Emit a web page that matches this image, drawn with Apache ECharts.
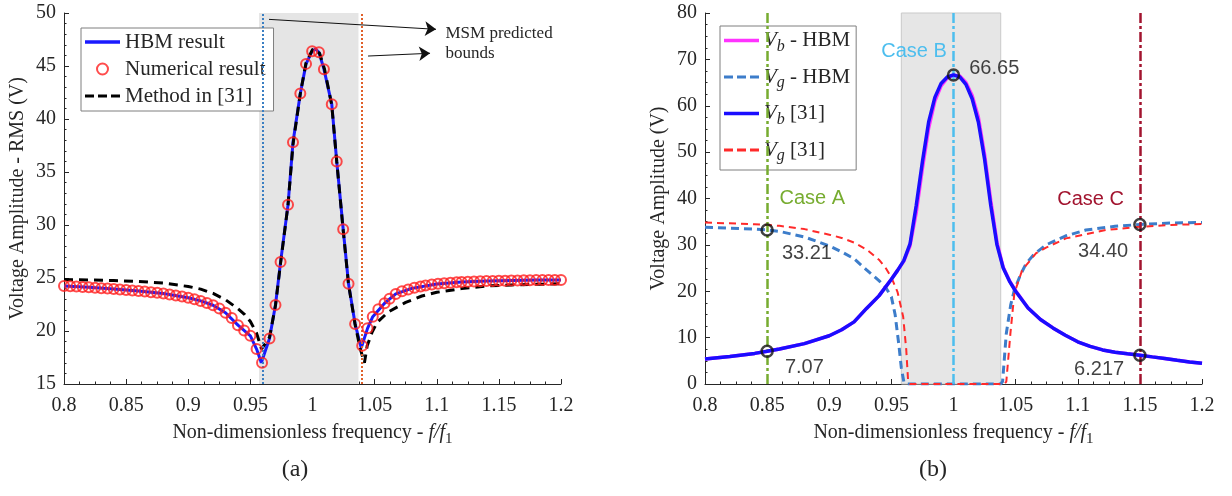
<!DOCTYPE html>
<html>
<head>
<meta charset="utf-8">
<script src="https://cdn.jsdelivr.net/npm/echarts@6/dist/echarts.min.js"></script>
<style>
  html, body { margin: 0; padding: 0; background: #fff; }
  #chart { width: 1232px; height: 496px; }
</style>
</head>
<body>
<div id="chart"></div>
<script>
// ---- (a) RMS voltage vs frequency ----
var numX = [0.800,0.805,0.810,0.815,0.820,0.825,0.830,0.835,0.840,0.845,0.850,0.855,0.860,0.865,0.870,0.875,0.880,0.885,0.890,0.895,
  0.900,0.905,0.910,0.915,0.920,0.925,0.930,0.935,0.940,0.945,0.950,0.955,0.9594,
  0.9654,0.9702,0.9743,0.9803,0.9843,0.9902,0.9948,0.9997,1.0052,1.0092,1.0155,1.0195,1.0247,1.0290,1.0343,1.0400,
  1.0443,1.0485,1.053,1.058,1.062,1.067,1.072,1.077,1.082,1.087,1.091,1.096,1.101,1.106,1.111,1.116,1.120,1.125,
  1.130,1.135,1.140,1.145,1.150,1.155,1.160,1.165,1.170,1.175,1.180,1.185,1.190,1.195,1.200];
var numY = [24.25,24.22,24.19,24.16,24.12,24.08,24.04,24.00,23.96,23.91,23.87,23.82,23.77,23.72,23.66,23.60,23.53,23.45,23.36,23.26,
  23.14,23.00,22.84,22.65,22.43,22.12,21.72,21.22,20.55,20.05,19.55,18.3,17.0,
  19.3,22.45,26.5,31.9,37.8,42.4,45.2,46.4,46.3,44.7,41.4,36.0,29.6,24.45,20.66,18.6,
  20.25,21.35,22.05,22.62,23.05,23.5,23.75,23.92,24.08,24.2,24.3,24.38,24.45,24.5,24.55,24.59,24.62,24.65,
  24.67,24.69,24.71,24.72,24.74,24.75,24.76,24.77,24.78,24.79,24.8,24.8,24.81,24.81,24.82];

var hbmX = [0.80,0.82,0.84,0.86,0.88,0.90,0.91,0.92,0.93,0.94,0.95,0.955,0.9588,
  0.9654,0.9702,0.9743,0.9803,0.9843,0.9902,0.9948,0.9997,1.0025,1.0052,1.0092,1.0155,1.0195,1.0247,1.0290,1.0343,1.0392,
  1.0443,1.0485,1.058,1.067,1.080,1.100,1.120,1.140,1.160,1.180,1.200];
var hbmY = [24.25,24.12,23.96,23.77,23.53,23.14,22.84,22.43,21.72,20.55,19.55,18.3,17.0,
  19.3,22.45,26.5,31.9,37.8,42.4,45.2,46.4,46.6,46.3,44.7,41.4,36.0,29.6,24.45,20.66,18.4,
  20.25,21.35,22.62,23.5,24.02,24.44,24.62,24.71,24.76,24.8,24.82];

var m31X = [0.80,0.82,0.84,0.86,0.88,0.90,0.91,0.92,0.93,0.94,0.945,0.95,0.955,0.959,
  0.9654,0.9702,0.9743,0.9803,0.9843,0.9902,0.9948,1.0002,1.0057,1.0097,1.0155,1.0195,1.0247,1.0290,1.0343,1.0385,
  1.0418,1.044,1.048,1.052,1.061,1.075,1.088,1.100,1.120,1.140,1.160,1.180,1.200];
var m31Y = [24.85,24.82,24.76,24.68,24.52,24.2,23.95,23.55,22.95,22.1,21.6,20.9,19.8,18.3,
  19.4,22.4,26.4,31.9,37.6,42.4,45.3,46.6,46.2,44.7,41.3,36.0,29.5,24.4,20.6,18.3,
  17.0,18.6,19.9,20.8,21.8,22.7,23.3,23.65,24.0,24.25,24.35,24.4,24.45];

var msmBounds = [0.957, 1.037];

// ---- (b) voltage amplitudes ----
var vbX = [0.80,0.82,0.84,0.85,0.86,0.88,0.90,0.91,0.92,0.93,0.94,0.95,0.955,0.96,0.965,0.97,0.975,0.98,0.985,0.99,0.995,
  1.00,1.005,1.01,1.015,1.02,1.025,1.03,1.035,1.04,1.045,1.05,1.06,1.07,1.08,1.09,1.10,1.11,1.12,1.13,1.14,1.15,1.16,1.17,1.18,1.19,1.20];
var vb31 = [5.4,5.95,6.6,7.07,7.55,8.7,10.4,11.7,13.4,16.3,19.0,22.6,24.5,26.6,30.2,38.5,48.0,56.5,61.8,64.8,66.2,
  66.65,66.2,64.6,61.5,56.5,48.5,38.5,30.0,25.0,22.2,20.0,16.4,13.9,12.1,10.5,9.1,8.1,7.35,6.85,6.5,6.217,5.85,5.5,5.1,4.75,4.45];
var vbHbm = [5.4,5.95,6.6,7.07,7.55,8.7,10.4,11.7,13.4,16.3,19.0,22.6,24.5,26.5,29.8,37.0,46.5,55.2,61.0,64.3,66.0,
  66.6,66.4,65.0,62.2,57.5,49.5,39.5,30.5,25.2,22.3,20.1,16.4,13.9,12.1,10.5,9.1,8.1,7.35,6.85,6.5,6.217,5.85,5.5,5.1,4.75,4.45];

var vgHbmX = [0.80,0.82,0.84,0.85,0.86,0.88,0.90,0.91,0.92,0.93,0.94,0.945,0.95,0.953,0.956,0.958,0.96,0.962,
  1.038,1.0395,1.0425,1.046,1.049,1.054,1.0585,1.065,1.0745,1.09,1.1065,1.13,1.15,1.175,1.20];
var vgHbmY = [33.8,33.6,33.4,33.21,32.9,31.7,29.8,28.5,27.0,24.6,22.3,21.0,18.8,15.0,8.5,3.5,0.5,0,
  0,0.5,10.9,17.0,20.3,23.6,26.0,28.0,30.0,31.9,33.2,34.0,34.40,34.7,34.85];

var vg31X = [0.80,0.82,0.84,0.85,0.86,0.88,0.90,0.91,0.92,0.93,0.94,0.945,0.95,0.955,0.9595,0.962,0.9635,0.965,
  1.041,1.0425,1.0458,1.049,1.0553,1.0665,1.0745,1.0905,1.1225,1.15,1.175,1.20];
var vg31Y = [34.8,34.65,34.45,34.3,34.1,33.4,32.2,31.5,30.5,29.0,26.8,25.2,23.0,19.8,14.5,7.3,0.5,0,
  0,0.5,10.9,19.6,24.6,28.2,29.4,31.4,33.2,33.9,34.3,34.5];

var caseFreq = [0.85, 1.0, 1.15];
var caseNames = ['Case A', 'Case B', 'Case C'];
var caseColors = ['#77AC30', '#4DBEEE', '#A2142F'];
var bandB = [0.958, 1.038];

var pointX = [0.85, 0.85, 1.0, 1.15, 1.15];
var pointY = [33.21, 7.07, 66.65, 34.40, 6.217];
var pointText = ['33.21', '7.07', '66.65', '34.40', '6.217'];

function pairs(xs, ys) {
  return xs.map(function (x, i) { return [x, ys[i]]; });
}

var serif = 'Liberation Serif';
var sans = 'Liberation Sans';
var ink = '#262626';

// legend icons (35 x 3 boxes, aspect kept)
var solidIcon = 'path://M0,0H35V3.6H0Z';
var dashIcon = 'path://M0,0H9V3H0Z M13,0H22V3H13Z M26,0H35V3H26Z';

var nameRich = {
  n: { fontFamily: serif, fontSize: 20, color: ink, lineHeight: 28 },
  i: { fontFamily: serif, fontSize: 20, fontStyle: 'italic', color: ink, lineHeight: 28 },
  s: { fontFamily: serif, fontSize: 15, color: ink, lineHeight: 12, verticalAlign: 'bottom' }
};

function xAxis(idx) {
  return {
    type: 'value', gridIndex: idx, min: 0.8, max: 1.2, interval: 0.05,
    name: '{n|Non-dimensionless frequency - }{i|f/f}{s|1}',
    nameLocation: 'middle', nameGap: 35,
    nameTextStyle: { rich: nameRich },
    axisLine: { onZero: false, lineStyle: { color: ink, width: 1 } },
    axisTick: { inside: true, length: 5, lineStyle: { color: ink } },
    minorTick: { show: true, splitNumber: 4, length: 2.5, lineStyle: { color: ink } },
    splitLine: { show: false },
    minorSplitLine: { show: false },
    axisLabel: {
      fontFamily: serif, fontSize: 20, color: ink, margin: 12,
      formatter: function (v) { return String(+v.toFixed(2)); }
    }
  };
}

function yAxis(idx, min, max, step, minor, title) {
  return {
    type: 'value', gridIndex: idx, min: min, max: max, interval: step,
    name: title, nameLocation: 'middle', nameGap: 36,
    nameTextStyle: { fontFamily: serif, fontSize: 20, color: ink },
    axisLine: { show: true, lineStyle: { color: ink, width: 1 } },
    axisTick: { show: true, inside: true, length: 5, lineStyle: { color: ink } },
    minorTick: { show: true, splitNumber: minor, length: 2.5, lineStyle: { color: ink } },
    splitLine: { show: false },
    minorSplitLine: { show: false },
    axisLabel: { fontFamily: serif, fontSize: 20, color: ink, margin: 8 }
  };
}

var legendRich = {
  i: { fontFamily: serif, fontSize: 21, fontStyle: 'italic', color: ink, lineHeight: 28 },
  s: { fontFamily: serif, fontSize: 16, fontStyle: 'italic', color: ink, lineHeight: 12, verticalAlign: 'bottom' },
  n: { fontFamily: serif, fontSize: 21, color: ink, lineHeight: 28 }
};
var legendLabels = {
  'Vb - HBM': '{i|V}{s|b}{n| - HBM}',
  'Vg - HBM': '{i|V}{s|g}{n| - HBM}',
  'Vb [31]': '{i|V}{s|b}{n| [31]}',
  'Vg [31]': '{i|V}{s|g}{n| [31]}'
};

var chart = echarts.init(document.getElementById('chart'));

chart.setOption({
  animation: false,
  backgroundColor: '#fff',
  grid: [
    { left: 64, top: 13, width: 497, height: 371, outerBoundsMode: 'none' },
    { left: 705, top: 13, width: 497, height: 371, outerBoundsMode: 'none' }
  ],
  xAxis: [xAxis(0), xAxis(1)],
  yAxis: [
    yAxis(0, 15, 50, 5, 5, 'Voltage Amplitude - RMS (V)'),
    yAxis(1, 0, 80, 10, 4, 'Voltage Amplitude (V)')
  ],
  title: [
    { text: '(a)', left: 290, top: 453, textAlign: 'center',
      textStyle: { fontFamily: serif, fontSize: 24, fontWeight: 'normal', color: ink } },
    { text: '(b)', left: 928, top: 453, textAlign: 'center',
      textStyle: { fontFamily: serif, fontSize: 24, fontWeight: 'normal', color: ink } }
  ],
  legend: [
    {
      data: [
        { name: 'HBM result', icon: solidIcon },
        { name: 'Numerical result', icon: 'circle' },
        { name: 'Method in [31]', icon: dashIcon }
      ],
      orient: 'vertical', left: 81, top: 28,
      padding: [3, 8, 4, 4], itemGap: 5, itemWidth: 35, itemHeight: 11,
      backgroundColor: '#fff', borderColor: '#7f7f7f', borderWidth: 1, borderRadius: 0,
      textStyle: { fontFamily: serif, fontSize: 21, color: ink, lineHeight: 22 }
    },
    {
      data: [
        { name: 'Vb - HBM', icon: solidIcon },
        { name: 'Vg - HBM', icon: dashIcon },
        { name: 'Vb [31]', icon: solidIcon },
        { name: 'Vg [31]', icon: dashIcon }
      ],
      orient: 'vertical', left: 720, top: 26,
      padding: [4, 6, 6, 4], itemGap: 12, itemWidth: 35, itemHeight: 12,
      backgroundColor: '#fff', borderColor: '#7f7f7f', borderWidth: 1, borderRadius: 0,
      formatter: function (name) { return legendLabels[name]; },
      textStyle: { rich: legendRich }
    }
  ],
  series: [
    // (a) shaded MSM band, bound lines and annotation
    {
      name: 'bandA', type: 'line', xAxisIndex: 0, yAxisIndex: 0, data: [], z: 1,
      markArea: {
        silent: true,
        itemStyle: { color: '#e5e5e5' },
        data: [[{ xAxis: msmBounds[0] }, { xAxis: msmBounds[1] }]]
      },
      markLine: {
        silent: true, symbol: 'none', label: { show: false },
        data: [
          { xAxis: msmBounds[0], lineStyle: { color: '#3b7fc2', type: [2, 2], width: 2 } },
          { xAxis: msmBounds[1], lineStyle: { color: '#e0602a', type: [2, 2], width: 2 } },
          [{ coord: [0.965, 49.4], symbol: 'none' }, { coord: [1.0994, 48.46], symbol: 'arrow' }],
          [{ coord: [1.0447, 45.94], symbol: 'none' }, { coord: [1.0946, 46.2], symbol: 'arrow' }]
        ],
        symbolSize: 11,
        lineStyle: { color: '#111', type: 'solid', width: 1 }
      },
      markPoint: {
        silent: true, symbolSize: 0,
        data: [{
          coord: [1.107, 47.15],
          label: {
            show: true, position: 'right', distance: 0, formatter: 'MSM predicted\nbounds',
            fontFamily: serif, fontSize: 17, lineHeight: 20, color: ink, align: 'left'
          }
        }]
      }
    },
    {
      name: 'HBM result', type: 'line', xAxisIndex: 0, yAxisIndex: 0, z: 3,
      data: pairs(hbmX, hbmY), symbol: 'none',
      lineStyle: { color: '#1a1aff', width: 3 }, itemStyle: { color: '#1a1aff' }
    },
    {
      name: 'Method in [31]', type: 'line', xAxisIndex: 0, yAxisIndex: 0, z: 4,
      data: pairs(m31X, m31Y), symbol: 'none',
      lineStyle: { color: '#000', width: 3, type: [9, 6] }, itemStyle: { color: '#000' }
    },
    {
      name: 'Numerical result', type: 'scatter', xAxisIndex: 0, yAxisIndex: 0, z: 5,
      data: pairs(numX, numY), symbol: 'circle', symbolSize: 10,
      itemStyle: { color: 'rgba(0,0,0,0)', borderColor: '#ff1f1f', borderWidth: 2 }
    },
    // (b) shaded band and case lines
    {
      name: 'bandB', type: 'line', xAxisIndex: 1, yAxisIndex: 1, data: [], z: 1,
      markArea: {
        silent: true,
        itemStyle: { color: '#e6e6e6', borderColor: '#c9c9c9', borderWidth: 1 },
        data: [[{ xAxis: bandB[0] }, { xAxis: bandB[1] }]]
      },
      markLine: {
        silent: true, symbol: 'none', label: { show: false },
        data: caseFreq.map(function (f, i) {
          return { xAxis: f, lineStyle: { color: caseColors[i], width: 2.5, type: [10, 3, 3, 3] } };
        })
      },
      markPoint: {
        silent: true, symbolSize: 0,
        label: { show: true, fontFamily: sans, fontSize: 20, distance: 0 },
        data: [
          { coord: [0.86, 40.1], label: { formatter: caseNames[0], color: caseColors[0], position: 'right' } },
          { coord: [0.9946, 71.7], label: { formatter: caseNames[1], color: caseColors[1], position: 'left' } },
          { coord: [1.0835, 39.7], label: { formatter: caseNames[2], color: caseColors[2], position: 'right' } }
        ]
      }
    },
    {
      name: 'Vg - HBM', type: 'line', xAxisIndex: 1, yAxisIndex: 1, z: 3,
      data: pairs(vgHbmX, vgHbmY), symbol: 'none',
      lineStyle: { color: '#3d7dca', width: 3, type: [8, 5] }, itemStyle: { color: '#3d7dca' }
    },
    {
      name: 'Vg [31]', type: 'line', xAxisIndex: 1, yAxisIndex: 1, z: 3,
      data: pairs(vg31X, vg31Y), symbol: 'none',
      lineStyle: { color: '#ff2a2a', width: 2, type: [7, 5] }, itemStyle: { color: '#ff2a2a' }
    },
    {
      name: 'Vb - HBM', type: 'line', xAxisIndex: 1, yAxisIndex: 1, z: 4,
      data: pairs(vbX, vbHbm), symbol: 'none',
      lineStyle: { color: '#ff33ff', width: 3.5 }, itemStyle: { color: '#ff33ff' }
    },
    {
      name: 'Vb [31]', type: 'line', xAxisIndex: 1, yAxisIndex: 1, z: 5,
      data: pairs(vbX, vb31), symbol: 'none',
      lineStyle: { color: '#1a0dff', width: 3.5 }, itemStyle: { color: '#1a0dff' }
    },
    {
      name: 'points', type: 'scatter', xAxisIndex: 1, yAxisIndex: 1, z: 6,
      symbol: 'circle', symbolSize: 11,
      itemStyle: { color: 'rgba(0,0,0,0)', borderColor: '#111', borderWidth: 2.5 },
      label: { show: true, fontFamily: sans, fontSize: 20, color: '#111' },
      data: pointX.map(function (x, i) {
        var lab = [
          { position: 'right', offset: [3, 23] },
          { position: 'right', offset: [6, 16] },
          { position: 'right', offset: [4, -6] },
          { position: 'left', offset: [0, 27] },
          { position: 'left', offset: [-4, 14] }
        ][i];
        lab.formatter = pointText[i];
        return { value: [x, pointY[i]], label: lab };
      })
    }
  ]
});
</script>
</body>
</html>
